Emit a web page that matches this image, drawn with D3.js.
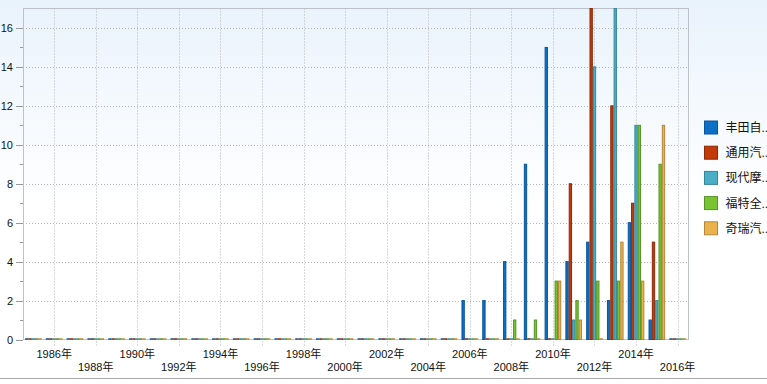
<!DOCTYPE html>
<html>
<head>
<meta charset="utf-8">
<script src="https://cdn.jsdelivr.net/npm/d3@7"></script>
<style>
html,body{margin:0;padding:0;background:#fff;}
svg{display:block;}
text{font-family:"Liberation Sans",Arial,"Noto Sans CJK SC",sans-serif;}
</style>
</head>
<body>
<svg id="chart" width="767" height="384"></svg>
<script>
const years = d3.range(1985, 2017).map(String);
const seriesNames = ["丰田自..", "通用汽..", "现代摩..", "福特全..", "奇瑞汽.."];
const fillColors = ["#0b70c6", "#c23a0a", "#4aaec6", "#78c432", "#eab24a"];
const strokeColors = ["#0a569a", "#8e2906", "#37879a", "#579526", "#b5873a"];
// values per year 1985..2016
const toyota  = [0,0,0,0,0,0,0,0,0,0,0,0,0,0,0,0,0,0,0,0,0, 2,2,4,9,15,4,5,2,6,1,0];
const gm      = [0,0,0,0,0,0,0,0,0,0,0,0,0,0,0,0,0,0,0,0,0, 0,0,0,0,0,8,17,12,7,5,0];
const hyundai = [0,0,0,0,0,0,0,0,0,0,0,0,0,0,0,0,0,0,0,0,0, 0,0,0,0,0,1,14,17,11,2,0];
const ford    = [0,0,0,0,0,0,0,0,0,0,0,0,0,0,0,0,0,0,0,0,0, 0,0,1,1,3,2,3,3,11,9,0];
const chery   = [0,0,0,0,0,0,0,0,0,0,0,0,0,0,0,0,0,0,0,0,0, 0,0,0,0,3,1,0,5,3,11,0];
const seriesValues = [toyota, gm, hyundai, ford, chery];
const yTicks = [0,2,4,6,8,10,12,14,16];
const yMinorTicks = [1,3,5,7,9,11,13,15];
const labelYears = years.filter(y => +y % 2 === 0);

const svg = d3.select("#chart");
const W = 767, H = 384;
const plot = {left: 23, right: 688, top: 8.5, bottom: 339.5};

// background gradient
const defs = svg.append("defs");
const grad = defs.append("linearGradient").attr("id","bg").attr("x1",0).attr("y1",0).attr("x2",0).attr("y2",1);
grad.append("stop").attr("offset","0%").attr("stop-color","#e9f3fc");
grad.append("stop").attr("offset","55%").attr("stop-color","#ffffff");
grad.append("stop").attr("offset","100%").attr("stop-color","#ffffff");
svg.append("rect").attr("width",W).attr("height",378).attr("fill","url(#bg)");
svg.append("line").attr("x1",0).attr("x2",W).attr("y1",378.5).attr("y2",378.5).attr("stroke","#a9a9a9");

const x0 = d3.scaleBand().domain(years).range([plot.left, plot.right]).paddingInner(0.2).paddingOuter(0.1);
const x1 = d3.scaleBand().domain(d3.range(seriesNames.length)).range([0, x0.bandwidth()]);
const y = d3.scaleLinear().domain([0,17]).range([plot.bottom, plot.top]);

// horizontal gridlines
svg.append("g").selectAll("line").data(yTicks.filter(v=>v>0)).join("line")
  .attr("x1", plot.left).attr("x2", plot.right)
  .attr("y1", d=>Math.round(y(d))+0.5).attr("y2", d=>Math.round(y(d))+0.5)
  .attr("stroke","#b5b5b5").attr("stroke-dasharray","1,2");
// vertical gridlines at labelled years
svg.append("g").selectAll("line").data(labelYears).join("line")
  .attr("x1", d=>Math.round(x0(d)+x0.bandwidth()/2)+0.5).attr("x2", d=>Math.round(x0(d)+x0.bandwidth()/2)+0.5)
  .attr("y1", plot.top).attr("y2", plot.bottom+7)
  .attr("stroke","#b5b5b5").attr("stroke-dasharray","1,2");

// plot border
svg.append("rect").attr("x",plot.left+0.5).attr("y",plot.top).attr("width",plot.right-plot.left)
  .attr("height",plot.bottom-plot.top).attr("fill","none").attr("stroke","#bcc2c8");

// y ticks
svg.append("g").selectAll("line").data(yTicks).join("line")
  .attr("x1", plot.left-7).attr("x2", plot.left)
  .attr("y1", d=>Math.round(y(d))+0.5).attr("y2", d=>Math.round(y(d))+0.5)
  .attr("stroke","#999");
svg.append("g").selectAll("line").data(yMinorTicks).join("line")
  .attr("x1", plot.left-3).attr("x2", plot.left)
  .attr("y1", d=>Math.round(y(d))+0.5).attr("y2", d=>Math.round(y(d))+0.5)
  .attr("stroke","#999");
svg.append("g").selectAll("text").data(yTicks).join("text")
  .attr("x", 13).attr("y", d=>y(d)+4).attr("text-anchor","end")
  .attr("font-size","11px").attr("fill","#111").text(d=>d);

// x labels
svg.append("g").selectAll("text").data(labelYears).join("text")
  .attr("x", d=>x0(d)+x0.bandwidth()/2)
  .attr("y", (d,i)=> i%2===0 ? 358 : 371)
  .attr("text-anchor","middle").attr("font-size","11px").attr("fill","#111")
  .text(d=>d+"年");

// bars
const groups = svg.append("g").selectAll("g").data(years).join("g")
  .attr("transform", d=>`translate(${x0(d)},0)`);
groups.selectAll("rect.bar").data((d,i)=>seriesValues.map((s,k)=>({k, v:s[i]})).filter(e=>e.v>0)).join("rect")
  .attr("class","bar")
  .attr("x", e=>x1(e.k)+0.5).attr("y", e=>y(e.v))
  .attr("width", x1.bandwidth()-1).attr("height", e=>y(0)-y(e.v))
  .attr("fill", e=>fillColors[e.k]).attr("stroke", e=>strokeColors[e.k]).attr("stroke-width",1);
groups.selectAll("line.zero").data((d,i)=>seriesValues.map((s,k)=>({k, v:s[i]})).filter(e=>e.v===0)).join("line")
  .attr("class","zero")
  .attr("x1", e=>x1(e.k)).attr("x2", e=>x1(e.k)+x1.bandwidth())
  .attr("y1", y(0)-0.5).attr("y2", y(0)-0.5)
  .attr("stroke", e=>strokeColors[e.k]).attr("stroke-width",1.5);

// legend
const legend = svg.append("g").selectAll("g").data(seriesNames).join("g")
  .attr("transform", (d,i)=>`translate(704.5,${121 + i*25.2})`);
legend.append("rect").attr("width",13).attr("height",13)
  .attr("fill",(d,i)=>fillColors[i]).attr("stroke",(d,i)=>strokeColors[i]);
legend.append("text").attr("x",21).attr("y",11).attr("font-size","12px").attr("fill","#111").text(d=>d);
</script>
</body>
</html>
